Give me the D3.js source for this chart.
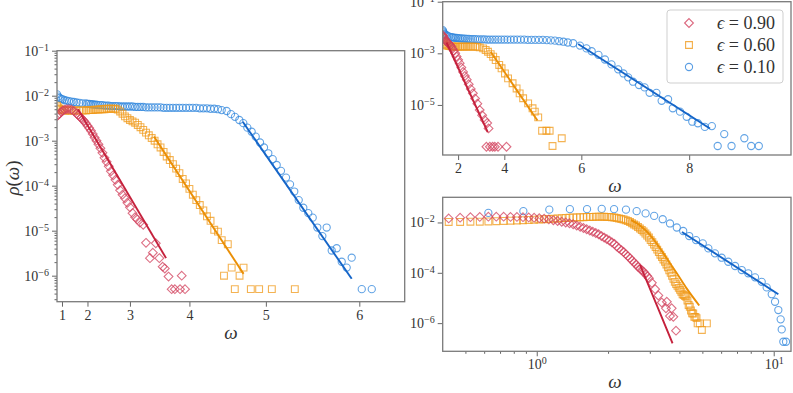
<!DOCTYPE html>
<html>
<head>
<meta charset="utf-8">
<script src="https://cdnjs.cloudflare.com/ajax/libs/d3/7.8.5/d3.min.js"></script>
<style>
  body { margin: 0; background: #fff; }
  svg text { font-family: "Liberation Serif", "DejaVu Serif", serif; fill: #333; }
  .tick line { stroke: #666; }
</style>
</head>
<body>
<div id="chart"></div>
<script>
// values are [omega, log10(rho)]

// ---- left panel ----
var leftRed = [[0.65,-2.45],[0.75,-2.43],[0.85,-2.40],[0.95,-2.36],[1.05,-2.33],[1.15,-2.31],[1.25,-2.30],[1.35,-2.30],
  [1.45,-2.31],[1.55,-2.34],[1.65,-2.40],[1.7,-2.43],[1.75,-2.46],[1.8,-2.49],[1.85,-2.53],[1.9,-2.57],[1.95,-2.61],
  [2.0,-2.67],[2.05,-2.72],[2.1,-2.78],[2.15,-2.85],[2.2,-2.93],[2.25,-3.00],[2.3,-3.08],[2.35,-3.17],[2.4,-3.27],
  [2.45,-3.38],[2.5,-3.47],[2.55,-3.57],[2.6,-3.68],[2.65,-3.77],[2.7,-3.87],[2.75,-3.98],[2.8,-4.10],[2.85,-4.20],
  [2.9,-4.28],[2.95,-4.38],[3.0,-4.48],[3.05,-4.61],[3.1,-4.70],[3.14,-4.75],[3.19,-4.82],[3.25,-4.87],[3.30,-5.27],
  [3.37,-5.61],[3.42,-5.49],[3.47,-5.28],[3.53,-5.61],[3.585,-5.80],[3.62,-5.84],[3.68,-6.02],[3.73,-6.30],[3.78,-6.30],
  [3.86,-6.30],[3.885,-6.00],[3.935,-6.30]];
var leftOrange = [[0.65,-2.22],[0.75,-2.26],[0.85,-2.29],[0.95,-2.31],[1.05,-2.32],[1.15,-2.33],[1.25,-2.33],[1.35,-2.33],
  [1.45,-2.33],[1.55,-2.33],[1.65,-2.33],[1.75,-2.33],[1.85,-2.33],[1.95,-2.33],[2.0,-2.32],[2.05,-2.32],[2.1,-2.32],
  [2.15,-2.32],[2.2,-2.31],[2.25,-2.31],[2.3,-2.31],[2.35,-2.30],[2.4,-2.30],[2.45,-2.30],[2.5,-2.29],[2.55,-2.29],
  [2.6,-2.29],[2.65,-2.29],[2.7,-2.29],[2.75,-2.31],[2.8,-2.35],[2.85,-2.40],[2.9,-2.46],[2.95,-2.50],[3.0,-2.54],
  [3.05,-2.57],[3.1,-2.60],[3.15,-2.65],[3.2,-2.70],[3.25,-2.76],[3.3,-2.82],[3.35,-2.88],[3.4,-2.94],[3.45,-3.00],
  [3.5,-3.08],[3.55,-3.15],[3.6,-3.25],[3.65,-3.35],[3.7,-3.43],[3.75,-3.52],[3.8,-3.62],[3.85,-3.72],[3.9,-3.85],
  [3.95,-3.95],[4.0,-4.07],[4.05,-4.20],[4.1,-4.32],[4.15,-4.43],[4.2,-4.55],[4.25,-4.68],[4.3,-4.78],[4.35,-4.98],
  [4.4,-5.02],[4.45,-5.21],[4.48,-6.00],[4.53,-5.30],[4.58,-5.82],[4.62,-6.30],[4.68,-6.00],[4.73,-5.82],[4.82,-6.30],
  [4.92,-6.30],[5.07,-6.30],[5.33,-6.30]];
var leftBlue = [[0.65,-1.97],[0.75,-2.02],[0.85,-2.05],[0.95,-2.07],[1.05,-2.08],[1.15,-2.10],[1.25,-2.11],[1.35,-2.12],
  [1.45,-2.13],[1.55,-2.14],[1.65,-2.15],[1.75,-2.16],[1.85,-2.17],[1.95,-2.17],[2.0,-2.18],[2.05,-2.18],[2.1,-2.19],
  [2.15,-2.19],[2.2,-2.20],[2.25,-2.20],[2.3,-2.21],[2.35,-2.21],[2.4,-2.21],[2.45,-2.22],[2.5,-2.22],[2.55,-2.22],
  [2.6,-2.23],[2.65,-2.23],[2.7,-2.23],[2.75,-2.23],[2.8,-2.24],[2.85,-2.24],[2.9,-2.24],[2.95,-2.24],[3.0,-2.24],
  [3.05,-2.24],[3.1,-2.25],[3.15,-2.25],[3.2,-2.25],[3.25,-2.25],[3.3,-2.26],[3.35,-2.26],[3.4,-2.26],[3.45,-2.26],
  [3.5,-2.26],[3.55,-2.26],[3.6,-2.27],[3.65,-2.27],[3.7,-2.27],[3.75,-2.27],[3.8,-2.27],[3.85,-2.27],[3.9,-2.27],
  [3.95,-2.27],[4.0,-2.27],[4.05,-2.27],[4.1,-2.27],[4.15,-2.28],[4.2,-2.28],[4.25,-2.28],[4.3,-2.29],[4.35,-2.29],
  [4.4,-2.30],[4.45,-2.32],[4.515,-2.34],[4.571,-2.41],[4.622,-2.47],[4.677,-2.54],[4.727,-2.61],[4.777,-2.71],
  [4.83,-2.80],[4.879,-2.91],[4.931,-3.04],[4.978,-3.15],[5.029,-3.28],[5.08,-3.41],[5.126,-3.54],[5.175,-3.67],
  [5.232,-3.82],[5.277,-3.97],[5.324,-4.13],[5.373,-4.32],[5.423,-4.49],[5.477,-4.61],[5.524,-4.71],[5.573,-4.93],
  [5.626,-5.12],[5.671,-4.93],[5.723,-5.44],[5.774,-5.39],[5.825,-5.69],[5.875,-5.82],[5.925,-5.60],[6.024,-6.30],
  [6.121,-6.30]];
var leftRedFit = [[1.70,-2.30],[3.64,-5.61]];
var leftOrangeFit = [[3.44,-2.91],[4.73,-5.96]];
var leftBlueFit = [[4.72,-2.58],[5.925,-6.07]];

// ---- top right panel ----
var trRed = [[0.1,-2.30],[0.3,-2.33],[0.5,-2.38],[0.7,-2.44],[0.9,-2.50],[1.0,-2.54],[1.1,-2.57],[1.2,-2.61],[1.3,-2.65],
  [1.4,-2.69],[1.5,-2.74],[1.6,-2.82],[1.7,-2.90],[1.8,-3.00],[1.9,-3.12],[2.0,-3.25],[2.1,-3.38],[2.2,-3.55],
  [2.3,-3.72],[2.4,-3.88],[2.5,-4.02],[2.6,-4.20],[2.7,-4.38],[2.8,-4.55],[2.9,-4.75],[3.0,-4.95],[3.1,-5.20],
  [3.2,-5.40],[3.3,-5.58],[3.4,-5.70],[3.45,-5.91],[3.37,-6.62],[3.5,-6.62],[3.6,-6.62],[3.68,-6.62],[3.79,-6.62],
  [4.07,-6.62]];
var trOrange = [[0.1,-2.40],[0.3,-2.50],[0.5,-2.58],[0.7,-2.64],[0.9,-2.68],[1.1,-2.71],[1.3,-2.72],[1.5,-2.73],
  [1.6,-2.73],[1.7,-2.74],[1.8,-2.74],[1.9,-2.74],[2.0,-2.74],[2.1,-2.74],[2.2,-2.74],[2.3,-2.74],[2.4,-2.74],
  [2.5,-2.74],[2.6,-2.74],[2.7,-2.74],[2.8,-2.74],[2.9,-2.74],[3.0,-2.75],[3.1,-2.77],[3.24,-2.81],[3.34,-2.87],
  [3.43,-2.94],[3.53,-3.03],[3.62,-3.13],[3.71,-3.26],[3.83,-3.45],[3.91,-3.58],[4.02,-3.78],[4.12,-3.97],
  [4.26,-4.16],[4.38,-4.36],[4.47,-4.55],[4.57,-4.74],[4.71,-4.94],[4.83,-5.13],[4.89,-5.26],[4.98,-5.48],
  [5.08,-6.00],[5.19,-6.00],[5.27,-6.00],[5.34,-6.59],[5.56,-6.29]];
var trBlue = [[0.1,-2.10],[0.3,-2.15],[0.5,-2.20],[0.7,-2.25],[0.9,-2.29],[1.1,-2.32],[1.3,-2.35],[1.5,-2.37],
  [1.6,-2.38],[1.7,-2.39],[1.8,-2.40],[1.9,-2.40],[2.0,-2.41],[2.1,-2.42],[2.2,-2.42],[2.3,-2.43],[2.4,-2.43],
  [2.5,-2.44],[2.6,-2.44],[2.7,-2.45],[2.8,-2.45],[2.9,-2.45],[3.0,-2.46],[3.1,-2.46],[3.2,-2.46],[3.3,-2.46],
  [3.4,-2.47],[3.5,-2.47],[3.6,-2.47],[3.7,-2.47],[3.8,-2.47],[3.9,-2.47],[4.0,-2.47],[4.1,-2.47],[4.2,-2.47],
  [4.3,-2.47],[4.4,-2.47],[4.5,-2.47],[4.6,-2.47],[4.7,-2.48],[4.8,-2.48],[4.9,-2.48],[5.0,-2.48],[5.1,-2.48],
  [5.2,-2.49],[5.3,-2.50],[5.4,-2.51],[5.5,-2.53],[5.6,-2.55],[5.7,-2.58],[5.82,-2.61],[5.97,-2.70],[6.11,-2.81],
  [6.22,-2.92],[6.36,-3.06],[6.49,-3.24],[6.62,-3.43],[6.75,-3.62],[6.85,-3.78],[6.94,-3.93],[7.03,-4.10],
  [7.14,-4.23],[7.24,-4.32],[7.33,-4.53],[7.45,-4.53],[7.54,-4.84],[7.65,-4.78],[7.73,-5.13],[7.85,-5.26],
  [7.96,-5.46],[8.05,-5.65],[8.14,-5.71],[8.25,-5.85],[8.36,-5.82],[8.45,-6.59],[8.55,-6.13],[8.66,-6.59],
  [8.85,-6.29],[8.95,-6.59],[9.06,-6.59]];
var trRedFit = [[1.0,-2.58],[3.42,-6.05]];
var trOrangeFit = [[3.53,-2.94],[4.96,-5.60]];
var trBlueFit = [[5.93,-2.64],[8.33,-5.91]];

// ---- bottom right panel ----
var brRed = [[0.425,-1.84],[0.475,-1.81],[0.525,-1.79],[0.575,-1.78],[0.625,-1.77],[0.675,-1.77],[0.725,-1.77],
  [0.775,-1.78],[0.825,-1.78],[0.875,-1.79],[0.925,-1.80],[0.975,-1.81],[1.025,-1.83],[1.075,-1.85],[1.125,-1.88],
  [1.175,-1.91],[1.225,-1.94],[1.275,-1.97],[1.325,-2.00],[1.375,-2.03],[1.425,-2.07],[1.475,-2.12],[1.525,-2.17],
  [1.575,-2.22],[1.625,-2.27],[1.675,-2.32],[1.725,-2.37],[1.775,-2.42],[1.825,-2.47],[1.875,-2.54],[1.925,-2.60],
  [1.975,-2.66],[2.025,-2.72],[2.075,-2.79],[2.125,-2.85],[2.175,-2.95],[2.225,-3.03],[2.275,-3.10],[2.325,-3.17],
  [2.375,-3.26],[2.425,-3.34],[2.475,-3.42],[2.525,-3.51],[2.575,-3.59],[2.625,-3.67],[2.675,-3.76],[2.725,-3.83],
  [2.775,-3.90],[2.825,-3.96],[2.875,-4.05],[2.925,-4.13],[2.975,-4.22],[3.06,-4.40],[3.16,-4.65],[3.26,-4.90],
  [3.37,-5.18],[3.51,-5.41],[3.54,-5.15],[3.65,-5.72],[3.71,-5.41],[3.77,-5.75],[3.87,-6.30]];
var brOrange = [[0.425,-1.98],[0.475,-1.98],[0.525,-1.97],[0.575,-1.97],[0.625,-1.96],[0.675,-1.95],[0.725,-1.94],
  [0.775,-1.93],[0.825,-1.92],[0.875,-1.91],[0.925,-1.90],[0.975,-1.89],[1.025,-1.88],[1.075,-1.87],[1.125,-1.86],
  [1.175,-1.85],[1.225,-1.84],[1.275,-1.83],[1.325,-1.82],[1.375,-1.81],[1.425,-1.80],[1.475,-1.80],[1.525,-1.79],
  [1.575,-1.79],[1.625,-1.78],[1.675,-1.78],[1.725,-1.78],[1.775,-1.77],[1.825,-1.77],[1.875,-1.77],[1.925,-1.77],
  [1.975,-1.78],[2.025,-1.78],[2.075,-1.79],[2.125,-1.80],[2.175,-1.82],[2.225,-1.84],[2.275,-1.86],[2.325,-1.88],
  [2.375,-1.91],[2.425,-1.94],[2.475,-1.98],[2.525,-2.03],[2.575,-2.08],[2.625,-2.12],[2.675,-2.18],[2.725,-2.24],
  [2.775,-2.30],[2.825,-2.36],[2.875,-2.44],[2.925,-2.52],[2.975,-2.60],[3.025,-2.70],[3.075,-2.78],[3.125,-2.88],
  [3.175,-2.98],[3.225,-3.08],[3.275,-3.18],[3.325,-3.28],[3.375,-3.37],[3.425,-3.47],[3.475,-3.56],[3.525,-3.67],
  [3.575,-3.78],[3.625,-3.90],[3.675,-4.00],[3.725,-4.12],[3.775,-4.24],[3.825,-4.36],[3.875,-4.45],[3.925,-4.52],
  [3.975,-4.60],[4.025,-4.68],[4.075,-4.75],[4.125,-4.85],[4.175,-4.88],[4.225,-4.92],[4.275,-4.95],[4.325,-5.10],
  [4.375,-5.28],[4.425,-5.35],[4.475,-5.50],[4.525,-5.61],[4.575,-5.62],[4.625,-5.75],[4.675,-5.75],[4.725,-5.80],
  [4.775,-6.01],[4.875,-6.01],[4.975,-6.27],[5.225,-6.01]];
var brBlue = [[0.625,-1.62],[0.878,-1.55],[1.13,-1.49],[1.38,-1.47],[1.63,-1.47],[1.88,-1.46],[2.12,-1.47],[2.38,-1.49],
  [2.64,-1.55],[2.88,-1.64],[3.13,-1.74],[3.40,-1.87],[3.65,-2.04],[3.90,-2.20],[4.15,-2.34],[4.40,-2.54],[4.70,-2.70],
  [5.02,-2.83],[5.30,-3.03],[5.65,-3.23],[6.03,-3.40],[6.43,-3.56],[6.87,-3.73],[7.33,-3.89],[7.81,-4.02],[8.34,-4.18],
  [8.90,-4.36],[9.34,-4.58],[9.81,-4.85],[10.13,-5.15],[10.46,-5.48],[10.70,-5.85],[10.81,-6.25],[10.98,-6.74],
  [11.27,-6.74]];
var brRedFit = [[2.73,-3.69],[3.21,-5.28],[3.74,-6.80]];
var brOrangeFit = [[2.5,-1.90],[2.75,-2.15],[3.01,-2.50],[3.27,-2.95],[3.54,-3.43],[3.90,-4.02],[4.29,-4.62],[4.85,-5.30]];
var brBlueFit = [[4.1,-2.38],[10.46,-4.85]];

var legendLabels = ["0.90", "0.60", "0.10"];

var lineColors = ["#c5213c", "#ea8f06", "#1565c8"];
var markColors = ["#d2405c", "#f09a1a", "#2f85dc"];
var markers = ["diamond", "square", "circle"];

var chart = (function() {
  var svg = d3.select("#chart").append("svg")
    .attr("width", 793)
    .attr("height", 393);

  var pw = function(d) { return Math.pow(10, d[1]); };

  var markerPath = {
    diamond: "M0,-4.4L4.4,0L0,4.4L-4.4,0Z",
    square: "M-3.4,-3.4h6.8v6.8h-6.8Z",
    circle: d3.symbol(d3.symbolCircle, Math.PI * 3.6 * 3.6)()
  };

  var powLabel = function(sel) {
    sel.each(function(d) {
      var e = Math.round(Math.log10(d));
      var t = d3.select(this).text(null);
      t.append("tspan").text("10");
      t.append("tspan").attr("dy", "-0.5em").attr("font-size", "10px")
        .text(e < 0 ? "\u2212" + (-e) : e);
    });
  };

  var panel = function(cfg, idx) {
    var x = cfg.x, y = cfg.y;
    var x0 = x.range()[0], x1 = x.range()[1], y0 = y.range()[1], y1 = y.range()[0];
    var g = svg.append("g");

    g.append("clipPath").attr("id", "clip" + idx)
      .append("rect").attr("x", x0).attr("y", y0).attr("width", x1 - x0).attr("height", y1 - y0);

    var plot = g.append("g").attr("clip-path", "url(#clip" + idx + ")");

    // blue, orange, red so that red sits on top
    [2, 1, 0].forEach(function(s) {
      plot.append("g").selectAll("path")
        .data(cfg.series[s])
        .enter().append("path")
        .attr("d", markerPath[markers[s]])
        .attr("transform", function(d) { return "translate(" + x(d[0]) + "," + y(pw(d)) + ")"; })
        .attr("fill", "none")
        .attr("stroke", markColors[s])
        .attr("stroke-opacity", 0.75)
        .attr("stroke-width", 1.1);

      plot.append("path")
        .datum(cfg.fits[s])
        .attr("fill", "none")
        .attr("stroke", lineColors[s])
        .attr("stroke-width", 1.9)
        .attr("d", d3.line().curve(d3.curveMonotoneX)
          .x(function(d) { return x(d[0]); })
          .y(function(d) { return y(pw(d)); }));
    });

    // y axis
    if (cfg.yMinor) {
      g.append("g").attr("transform", "translate(" + x0 + ",0)")
        .call(d3.axisLeft(y).tickValues(cfg.yMinor).tickSize(2.5).tickFormat(""))
        .call(function(a) { a.select(".domain").remove(); });
    }
    var ya = g.append("g").attr("transform", "translate(" + x0 + ",0)")
      .call(d3.axisLeft(y).tickValues(cfg.yTicks).tickSize(5).tickPadding(3).tickSizeOuter(0));
    ya.select(".domain").remove();
    ya.selectAll("text").attr("font-size", "14px").attr("fill", "#333").call(powLabel);

    // x axis
    if (cfg.xMinor) {
      g.append("g").attr("transform", "translate(0," + y1 + ")")
        .call(d3.axisBottom(x).tickValues(cfg.xMinor).tickSize(2.5).tickFormat(""))
        .call(function(a) { a.select(".domain").remove(); });
    }
    var xa = g.append("g").attr("transform", "translate(0," + y1 + ")")
      .call(d3.axisBottom(x).tickValues(cfg.xTicks).tickSize(5).tickPadding(3)
        .tickSizeOuter(0).tickFormat(d3.format("d")));
    xa.select(".domain").remove();
    xa.selectAll("text").attr("font-size", "14px").attr("fill", "#333");
    if (cfg.xPow) xa.selectAll("text").call(powLabel);

    g.append("rect")
      .attr("x", x0).attr("y", y0).attr("width", x1 - x0).attr("height", y1 - y0)
      .attr("fill", "none").attr("stroke", "#7a7a7a").attr("stroke-width", 1.3);

    g.append("text")
      .attr("x", cfg.xLabel[0]).attr("y", cfg.xLabel[1])
      .attr("text-anchor", "middle").attr("font-size", "19px").attr("font-style", "italic")
      .text("\u03c9");
    return g;
  };

  var leftMinor = [];
  [-7, -6, -5, -4, -3, -2].forEach(function(e) {
    for (var k = 2; k < 10; k++) {
      var v = k * Math.pow(10, e);
      if (v > 2.64e-7 && v < 0.1) leftMinor.push(v);
    }
  });

  panel({
    x: d3.scalePow().exponent(2).domain([0.642, 6.43]).range([57, 404.7]),
    y: d3.scaleLog().domain([2.64e-7, 0.1]).range([301.7, 50.7]),
    series: [leftRed, leftOrange, leftBlue],
    fits: [leftRedFit, leftOrangeFit, leftBlueFit],
    yTicks: [1e-1, 1e-2, 1e-3, 1e-4, 1e-5, 1e-6],
    yMinor: leftMinor,
    xTicks: [1, 2, 3, 4, 5, 6],
    xLabel: [231, 339]
  }, 0);

  panel({
    x: d3.scalePow().exponent(2).domain([0, 9.51]).range([442.7, 791]),
    y: d3.scaleLog().domain([1.15e-7, 0.1]).range([155, 1.7]),
    series: [trRed, trOrange, trBlue],
    fits: [trRedFit, trOrangeFit, trBlueFit],
    yTicks: [1e-1, 1e-3, 1e-5],
    xTicks: [2, 4, 6, 8],
    xLabel: [615, 192]
  }, 1);

  panel({
    x: d3.scaleLog().domain([0.401, 11.83]).range([442.7, 791]),
    y: d3.scaleLog().domain([7.6e-8, 0.1]).range([351.3, 197.3]),
    series: [brRed, brOrange, brBlue],
    fits: [brRedFit, brOrangeFit, brBlueFit],
    yTicks: [1e-2, 1e-4, 1e-6],
    xTicks: [1, 10],
    xPow: true,
    xMinor: [0.5, 0.6, 0.7, 0.8, 0.9, 2, 3, 4, 5, 6, 7, 8, 9],
    xLabel: [615, 388]
  }, 2);

  // y label of left panel
  var yl = svg.append("text")
    .attr("transform", "translate(19,178) rotate(-90)")
    .attr("text-anchor", "middle").attr("font-size", "19px");
  yl.append("tspan").attr("font-style", "italic").text("\u03c1");
  yl.append("tspan").text("(");
  yl.append("tspan").attr("font-style", "italic").text("\u03c9");
  yl.append("tspan").text(")");

  // legend
  var lg = svg.append("g");
  lg.append("rect").attr("x", 667).attr("y", 10).attr("width", 116).attr("height", 73).attr("rx", 3)
    .attr("fill", "#fff").attr("fill-opacity", 0.9).attr("stroke", "#cfcfcf");
  legendLabels.forEach(function(lab, i) {
    var yy = 23 + i * 22;
    lg.append("path").attr("d", markerPath[markers[i]])
      .attr("transform", "translate(689," + yy + ")")
      .attr("fill", "none").attr("stroke", markColors[i]).attr("stroke-opacity", 0.8).attr("stroke-width", 1.1);
    var t = lg.append("text").attr("x", 717).attr("y", yy + 6).attr("font-size", "18px");
    t.append("tspan").attr("font-style", "italic").text("\u03f5");
    t.append("tspan").text(" = " + lab);
  });
})();
</script>
</body>
</html>
